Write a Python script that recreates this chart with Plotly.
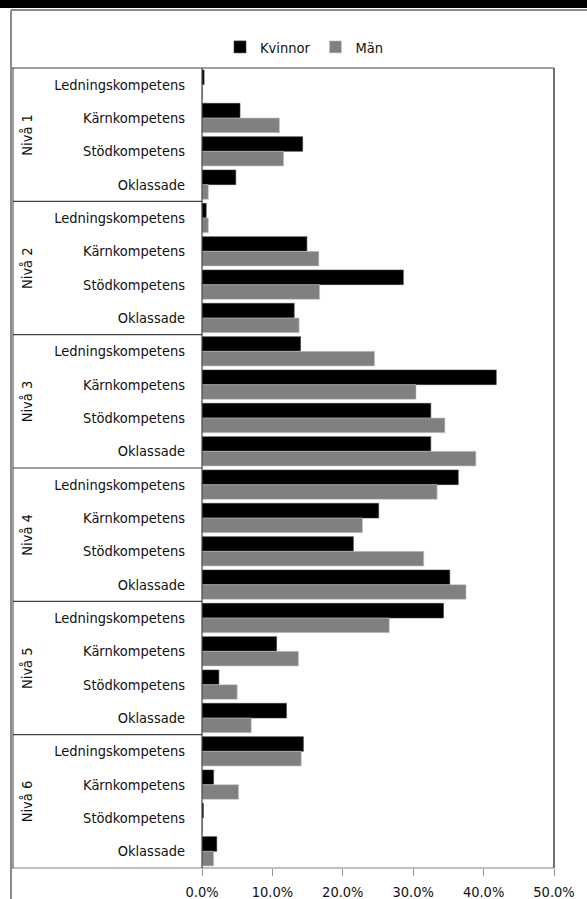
import plotly.graph_objects as go

levels = ["Nivå 1", "Nivå 2", "Nivå 3", "Nivå 4", "Nivå 5", "Nivå 6"]
categories = ["Ledningskompetens", "Kärnkompetens", "Stödkompetens", "Oklassade"]
series_names = ["Kvinnor", "Män"]

kvinnor = [0.003, 0.054, 0.143, 0.048,
           0.006, 0.149, 0.286, 0.131,
           0.140, 0.418, 0.325, 0.325,
           0.364, 0.251, 0.215, 0.352,
           0.343, 0.106, 0.024, 0.120,
           0.144, 0.0165, 0.002, 0.021]
man = [0.001, 0.110, 0.116, 0.009,
       0.009, 0.166, 0.167, 0.138,
       0.245, 0.304, 0.345, 0.389,
       0.334, 0.228, 0.315, 0.375,
       0.266, 0.137, 0.050, 0.070,
       0.141, 0.052, 0.001, 0.0165]
x_ticks = [0, 0.1, 0.2, 0.3, 0.4, 0.5]

keys = [f"{lv}|{c}" for lv in levels for c in categories]
labels = [c for lv in levels for c in categories]

W, H = 587, 899
L, R, T, B = 202, 554, 68, 868
pw, ph = R - L, B - T


def px(xp):
    return (xp - L) / pw


def py(yp):
    return (B - yp) / ph


FONT = "DejaVu Sans Condensed, Liberation Sans Narrow, sans-serif"
FS = 14.5

fig = go.Figure()
fig.add_trace(go.Bar(y=keys, x=kvinnor, name=series_names[0], orientation="h",
                     marker=dict(color="#000000", line=dict(color="#404040", width=0.6))))
fig.add_trace(go.Bar(y=keys, x=man, name=series_names[1], orientation="h",
                     marker=dict(color="#808080", line=dict(color="#c8c8c8", width=0.6))))

shapes = []
lc = "#404040"
# outer frame
shapes.append(dict(type="line", xref="paper", yref="paper", x0=px(11), x1=px(11), y0=py(H + 5), y1=py(10),
                   line=dict(color="#8a8a8a", width=2)))
shapes.append(dict(type="line", xref="paper", yref="paper", x0=px(11), x1=px(W + 5), y0=py(10), y1=py(10),
                   line=dict(color="#8a8a8a", width=2)))
# black title band
shapes.append(dict(type="rect", xref="paper", yref="paper", x0=px(-5), x1=px(W + 5), y0=py(8), y1=py(-5),
                   fillcolor="#000000", line=dict(width=0)))
# plot box
shapes.append(dict(type="line", xref="paper", yref="paper", x0=px(12), x1=1, y0=1, y1=1,
                   line=dict(color=lc, width=1.2)))
shapes.append(dict(type="line", xref="paper", yref="paper", x0=px(12), x1=1, y0=0, y1=0,
                   line=dict(color="#808080", width=1.2)))
shapes.append(dict(type="line", xref="paper", yref="paper", x0=1, x1=1, y0=0, y1=1,
                   line=dict(color="#707070", width=2)))
shapes.append(dict(type="line", xref="paper", yref="paper", x0=0, x1=0, y0=0, y1=1,
                   line=dict(color=lc, width=1.2)))
shapes.append(dict(type="line", xref="paper", yref="paper", x0=px(13), x1=px(13), y0=0, y1=1,
                   line=dict(color=lc, width=1)))
# group dividers
for g in range(1, len(levels)):
    yv = g * len(categories) - 0.5
    shapes.append(dict(type="line", xref="paper", yref="y", x0=px(13), x1=0, y0=yv, y1=yv,
                       line=dict(color=lc, width=1.2)))

annotations = []
for i, lv in enumerate(levels):
    annotations.append(dict(text=lv, xref="paper", yref="y", x=px(27), y=i * len(categories) + 1.5,
                            textangle=-90, showarrow=False, xanchor="center", yanchor="middle",
                            font=dict(family=FONT, size=FS, color="#111111")))

fig.update_layout(
    width=W, height=H,
    margin=dict(l=L, r=W - R, t=T, b=H - B, autoexpand=False),
    paper_bgcolor="white", plot_bgcolor="white",
    barmode="group", bargap=0.12, bargroupgap=0,
    font=dict(family=FONT, size=FS, color="#111111"),
    legend=dict(orientation="h", x=px(304), xanchor="center", y=py(47), yanchor="middle",
                font=dict(family=FONT, size=FS, color="#111111"), itemwidth=30,
                traceorder="normal", bgcolor="rgba(0,0,0,0)"),
    shapes=shapes,
    annotations=annotations,
    showlegend=True,
)
fig.update_xaxes(range=[0, 0.5], tickvals=x_ticks, tickformat=".1%", showgrid=False, zeroline=False,
                 ticks="outside", ticklen=7, tickcolor="#909090", tickwidth=1.2, showline=False,
                 ticklabelstandoff=4, automargin=False,
                 tickfont=dict(family=FONT, size=FS, color="#111111"))
fig.update_yaxes(type="category", categoryorder="array", categoryarray=keys, autorange="reversed",
                 tickmode="array", tickvals=keys, ticktext=labels, showgrid=False, zeroline=False,
                 ticks="", showline=False, ticklabelstandoff=16, automargin=False,
                 tickfont=dict(family=FONT, size=FS, color="#111111"))

fig.write_html("out.html", config={"displayModeBar": False},
               post_script="document.body.style.margin='0';document.body.style.overflow='hidden';")
